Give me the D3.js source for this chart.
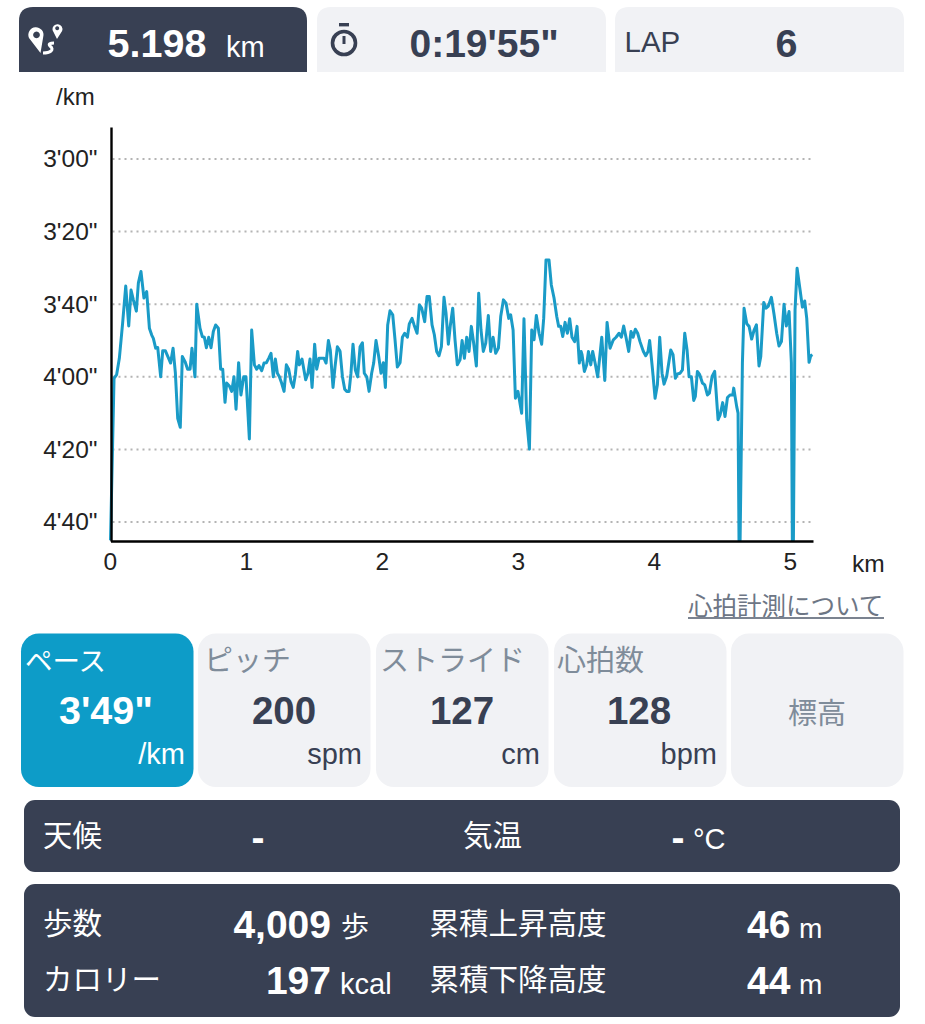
<!DOCTYPE html>
<html><head><meta charset="utf-8">
<script src="https://cdn.jsdelivr.net/npm/d3@7"></script>
<style>
html,body{margin:0;padding:0;background:#fff}
svg{display:block}
text{font-family:"Liberation Sans","Noto Sans CJK JP",sans-serif}
</style></head><body>
<svg id="c" width="925" height="1024"></svg>
<script>
const distanceM=[0,26,45,65,89,112,134,151,168,190,205,224,246,266,286,303,315,332,347,369,384,403,425,442,460,477,494,513,528,548,567,585,599,621,634,658,675,690,705,722,739,756,773,793,810,825,842,854,874,891,908,923,942,959,979,996,1021,1038,1058,1075,1092,1112,1129,1146,1163,1180,1197,1212,1227,1241,1258,1276,1293,1310,1327,1344,1359,1376,1388,1408,1435,1452,1467,1482,1501,1516,1533,1553,1570,1585,1602,1616,1636,1651,1668,1683,
1688,1705,1722,1737,1754,1768,1783,1800,1817,1835,1852,1866,1884,1901,1920,1935,1952,1972,1989,2006,2021,2038,2055,2075,2092,2109,2129,2146,2163,2183,2197,2217,2232,2254,2271,2288,2310,2327,2344,2364,2381,2398,2415,2433,2452,2467,2484,2499,2516,2533,2550,2570,2585,2602,2619,2636,2653,2670,2690,2707,2724,2741,2759,2778,2795,2813,2832,2852,2869,2889,2908,2928,2942,2960,2977,2996,3023,3040,3060,3080,3097,3114,3131,3151,3170,3185,3202,3224,3241,3261,3281,3295,3310,3325,3342,3359,3376,3393,3413,3430,3447,3460,
3467,3484,3501,3514,3531,3545,3563,3582,3612,3634,3651,3673,3697,3717,3739,3756,3773,3790,3810,3827,3842,3859,3876,3893,3918,3935,3952,3964,3984,4004,4021,4038,4055,4070,4089,4119,4136,4153,4168,4188,4205,4222,4239,4254,4271,4288,4300,4315,4332,4352,4369,4389,4403,4423,4442,4467,4482,4501,4518,4536,4555,4575,4582,4604,4614,4621,4629,4646,4658,4678,4695,4714,4732,4749,4768,4781,4803,4820,4837,4859,4879,4898,4915,4933,4952,4969,4989,5006,5013,5021,5033,5048,5070,5087,5104,5119,5136,5148,5161];
const paceSec=[285,240.4,239.4,234.9,225.3,215,226,216.1,218.8,221.9,214.1,211,218.3,216.5,226.6,228.5,229.4,232.1,231.9,240,232.8,232.8,234.7,236.2,232.1,239,251.4,253.9,234.4,235.8,237.9,237.9,232.1,240,220,226.6,228.9,229.1,232,229.1,232,227.5,225.7,226.6,237.9,237.9,247,241.7,242.5,244,240,248.9,236.1,245,240,240,257.1,227.1,236.7,237.9,236.9,238.3,236.2,236.1,234.9,233.5,240,235.1,239,239.9,241.7,244,236.7,237.9,241.3,242.9,239.4,233,236.7,235.1,240.8,239,235.1,242.9,231,237.9,234.9,234.9,234.9,236.2,230,232.6,242.9,237.2,231.7,232.6,
233,239.9,243.4,244,244,239,231,238.1,240,231.7,230.6,239,240,244,239,236.2,230,234.4,239,236.1,242.9,225.7,221.8,222.9,229.8,237.3,236.1,229.1,228,229.1,225.4,223.9,225.7,228,220.2,221.1,224.8,217.9,217.9,225.7,228.4,233,234.2,231.7,218.1,222.5,231,225.7,221.1,229.8,236.7,235.3,230,234.9,229.1,233,226.1,230.7,237,217,227.1,233,230.7,223.1,233,229.1,233.5,232.1,223.4,218.8,219.7,223.9,222.9,227.1,245.9,244,250,224,251.8,259.9,227.1,229.8,223.1,228,231,223.9,207.8,207.8,214.7,218.3,223.4,226.1,226.1,228.9,225,228,224,229.1,230.3,226.1,236.2,233,
233.9,238.5,236.7,233,236.7,233,236.2,240,229.1,241,225,232.1,229.8,229.1,228,229.1,226,229.1,233,227.5,229.1,226.9,228,230.3,233,234.2,233,230,237.6,245.9,242.2,229.1,239,242,239.9,232.6,233.9,240.4,239.2,239,238.1,228,232.6,240,240,246.5,245.4,238.5,239.4,241.7,242.2,245,244.5,239.9,238.5,251.8,250.5,247.1,250.9,245.7,245,245,243.1,248.2,250,285,285,236.2,221.1,225.4,226.1,229.6,227.1,225.7,237,234.4,219.5,221.1,220.5,218.1,222.9,228,231.5,230.3,220,226,222,236.2,285,285,221.6,210.1,216.1,220.8,219.1,223.9,236,234.2,233.9];
const paceTicks=[180,200,220,240,260,280];
const kmTicks=[0,1,2,3,4,5];
const tabValues=["5.198","0:19'55\"","6"];
const cardLabels=["ペース","ピッチ","ストライド","心拍数","標高"];
const cardValues=["3'49\"","200","127","128",""];
const cardUnits=["/km","spm","cm","bpm",""];

const DARK="#384053",GREY="#f1f2f5",BLUE="#0d9cc8",LINE="#1a9bc7",MUTED="#7f8c9a";
const svg=d3.select("#c");
function rr(x,y,w,h,r,f,top){
  if(top){ svg.append("path").attr("d",`M${x} ${y+h}V${y+r}Q${x} ${y} ${x+r} ${y}H${x+w-r}Q${x+w} ${y} ${x+w} ${y+r}V${y+h}Z`).attr("fill",f); }
  else svg.append("rect").attr("x",x).attr("y",y).attr("width",w).attr("height",h).attr("rx",r).attr("fill",f);
}
function t(s,x,y,size,fill,opt={}){
  return svg.append("text").attr("x",x).attr("y",y).attr("font-size",size).attr("fill",fill)
    .attr("font-weight",opt.bold?700:400).attr("text-anchor",opt.anchor||"start").text(s);
}
// top tabs
rr(19,7,288,65,14,DARK,true); rr(317,7,289,65,14,GREY,true); rr(615,7,289,65,14,GREY,true);
t(tabValues[0],107.5,57,39.5,"#fff",{bold:true}); t("km",226,57,29,"#fff");
t(tabValues[1],409.5,57,39,DARK,{bold:true});
t("LAP",624.5,52,29.5,DARK); t(tabValues[2],786.5,57,39.5,DARK,{bold:true,anchor:"middle"});
// route icon
const icon=svg.append("g").attr("fill","#fff");
icon.append("path").attr("fill-rule","evenodd").attr("d","M29 38a7.6 7.6 0 1 1 14.2 -1L40.5 53ZM36.5 31.5a3.4 3.4 0 1 0 .01 0Z");
icon.append("path").attr("fill-rule","evenodd").attr("d","M52.5 30a5 5 0 1 1 9.6 1L57 39ZM57.2 26.2a2 2 0 1 0 .01 0Z");
svg.append("path").attr("d","M43 53C50 53 55 50 50 46C48 44 50 43 54 43").attr("fill","none").attr("stroke","#fff").attr("stroke-width",3);
// stopwatch icon
svg.append("circle").attr("cx",344).attr("cy",43).attr("r",11.5).attr("fill","none").attr("stroke",DARK).attr("stroke-width",3.6);
svg.append("rect").attr("x",339).attr("y",23).attr("width",10).attr("height",3.4).attr("fill",DARK);
svg.append("path").attr("d","M344 36V44").attr("stroke",DARK).attr("stroke-width",3);

// chart
const x=d3.scaleLinear().domain([0,5.165]).range([110.5,813]);
const y=d3.scaleLinear().domain([171.2,285.2]).range([127,541]);
const fmt=s=>`${Math.floor(s/60)}'${String(s%60).padStart(2,"0")}"`;
const grid=svg.append("g");
grid.selectAll("line").data(paceTicks).join("line")
  .attr("x1",x(0)+2).attr("x2",814).attr("y1",y).attr("y2",y)
  .attr("stroke","#b4b4b4").attr("stroke-width",2).attr("stroke-dasharray","2 4");
const pts=distanceM.map((d,i)=>[d/1000,paceSec[i]]);
svg.append("path").datum(pts)
  .attr("d",d3.line().x(d=>x(d[0])).y(d=>y(d[1])))
  .attr("fill","none").attr("stroke",LINE).attr("stroke-width",3).attr("stroke-linejoin","round");
const ax=svg.append("g").attr("transform","translate(0,541)")
  .call(d3.axisBottom(x).tickValues(kmTicks).tickFormat(d3.format("d")).tickSize(0).tickPadding(12));
ax.selectAll("text").attr("dx",-0.8);
const ay=svg.append("g").attr("transform","translate(111,0)")
  .call(d3.axisLeft(y).tickValues(paceTicks).tickFormat(fmt).tickSize(0).tickPadding(13.5));
[ax,ay].forEach(g=>{
  g.selectAll(".domain").attr("stroke","#000").attr("stroke-width",2.4);
  g.selectAll("text").attr("font-size",24.5).attr("fill","#222").attr("font-family",'"Liberation Sans"');
});
t("/km",56,105,24,"#222"); t("km",852,572,24.5,"#222");

// link
t("心拍計測について",688,615,24.5,"#6d7685");
svg.append("rect").attr("x",688).attr("y",617).attr("width",196).attr("height",2).attr("fill","#7b8390");

// metric cards
const cardX=[21,198,376,554,731], cardC=[106,284,462,639,817];
const labelX=[25,204,380,557];
const unitEnd=[185,362,540,717];
cardLabels.forEach((l,i)=>{
  rr(cardX[i],633.5,172.5,153.5,18,i?GREY:BLUE);
  if(i<4){
    t(l,labelX[i],671,i==0?27.5:29,i?MUTED:"#fff");
    t(cardValues[i],cardC[i],724,i?38.5:39.5,i?DARK:"#fff",{bold:true,anchor:"middle"});
    t(cardUnits[i],unitEnd[i],764,29,i?DARK:"#fff",{anchor:"end"});
  } else t(l,cardC[i],724,29,MUTED,{anchor:"middle"});
});

// weather
rr(24,800,876,72,11,DARK);
t("天候",43,846,29.5,"#fff"); t("-",258,851,39,"#fff",{bold:true,anchor:"middle"});
t("気温",463,846,29.5,"#fff"); t("-",678,851,39,"#fff",{bold:true,anchor:"middle"}); t("°C",693,849,29,"#fff");

// stats
rr(24,884,876,133,11,DARK);
t("歩数",43,934,29.5,"#fff"); t("4,009",331,938,39,"#fff",{bold:true,anchor:"end"}); t("歩",341,937,28,"#fff");
t("カロリー",43,990,29.5,"#fff"); t("197",331,994,39,"#fff",{bold:true,anchor:"end"}); t("kcal",340,994,29,"#fff");
t("累積上昇高度",429.5,934,29.5,"#fff"); t("46",747,938,39,"#fff",{bold:true}); t("m",799,938,28,"#fff");
t("累積下降高度",429.5,990,29.5,"#fff"); t("44",747,994,39,"#fff",{bold:true}); t("m",799,994,28,"#fff");
</script></body></html>
